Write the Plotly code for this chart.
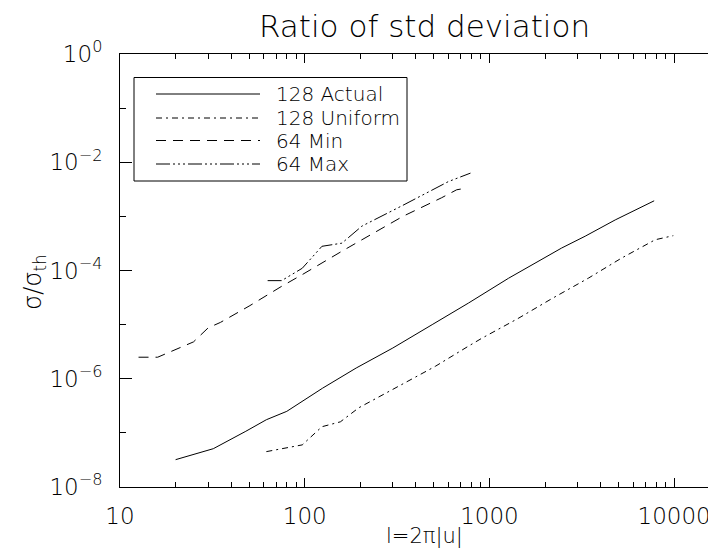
import plotly.graph_objects as go

# ---------------- data ----------------
actual128_l = [20, 32, 48, 62, 80, 125, 190, 300, 490, 770, 1270, 1920, 2460, 3300, 4800, 7800]
actual128_s = [3.2e-8, 5.1e-8, 1.07e-7, 1.75e-7, 2.5e-7, 6.7e-7, 1.58e-6, 3.7e-6, 1.0e-5,
               2.5e-5, 7.2e-5, 1.58e-4, 2.6e-4, 4.3e-4, 8.6e-4, 1.94e-3]

uniform128_l = [62, 97, 124, 156, 196, 300, 510, 770, 910, 1430, 2170, 3430, 5200, 7900, 9900]
uniform128_s = [4.5e-8, 6.0e-8, 1.3e-7, 1.6e-7, 2.9e-7, 6.3e-7, 1.7e-6, 4.0e-6, 5.6e-6,
                1.3e-5, 3.0e-5, 7.2e-5, 1.7e-4, 3.7e-4, 4.4e-4]

min64_l = [12.6, 16, 25, 30, 35, 50, 75, 97, 160, 340, 550, 665, 740]
min64_s = [2.5e-6, 2.5e-6, 4.8e-6, 8.7e-6, 1.1e-5, 2.2e-5, 5.1e-5, 8.4e-5, 2.3e-4,
           1.0e-3, 2.2e-3, 3.1e-3, 3.3e-3]

max64_l = [63, 75, 97, 124, 159, 204, 340, 490, 600, 790]
max64_s = [6.5e-5, 6.5e-5, 1.1e-4, 2.8e-4, 3.2e-4, 6.6e-4, 1.6e-3, 3.1e-3, 4.4e-3, 6.3e-3]

series_names = ["128 Actual", "128 Uniform", "64 Min", "64 Max"]

x_tickvals = [10, 100, 1000, 10000]
x_ticktext = ["10", "100", "1000", "10000"]
y_tickvals = [1, 1e-2, 1e-4, 1e-6, 1e-8]
y_ticktext = ["10<sup>0</sup>", "10<sup>−2</sup>", "10<sup>−4</sup>", "10<sup>−6</sup>", "10<sup>−8</sup>"]

# ---------------- styling ----------------
W, H = 716, 548
ML, MR, MT, MB = 112, 0, 46, 69
FONT = "DejaVu Sans"
WEIGHT = 200
INK = "black"

dashes = ["solid", "6px,4px,2px,4px", "10px,7px",
          "14px,3px,2px,3px,2px,3px,2px,3px"]


def px(xp):
    return (xp - ML) / (W - ML - MR)


def py(yp):
    return 1 - (yp - MT) / (H - MT - MB)


def fnt(size):
    return dict(family=FONT, size=size, color=INK, weight=WEIGHT)


fig = go.Figure()
for xs, ys, d, nm in zip([actual128_l, uniform128_l, min64_l, max64_l],
                         [actual128_s, uniform128_s, min64_s, max64_s],
                         dashes, series_names):
    fig.add_trace(go.Scatter(x=xs, y=ys, mode="lines", name=nm, showlegend=False,
                             line=dict(color=INK, width=1, dash=d)))

XRANGE = [1, 1 + (W - ML - MR) / 184.7]
YRANGE = [-8, 0]

fig.update_xaxes(type="log", range=XRANGE, showline=True, linecolor=INK, linewidth=1,
                 mirror="ticks", ticks="inside", tickcolor=INK, tickwidth=1,
                 showgrid=False, zeroline=False, tickfont=fnt(23),
                 tickmode="array", tickvals=x_tickvals, ticktext=x_ticktext,
                 ticklen=9, ticklabelstandoff=8,
                 minor=dict(ticks="inside", ticklen=5, dtick="D1", tickcolor=INK, tickwidth=1))

fig.update_layout(
    yaxis=dict(type="log", range=YRANGE, showline=True, linecolor=INK, linewidth=1,
               mirror=False, ticks="inside", tickcolor=INK, tickwidth=1,
               showgrid=False, zeroline=False, tickfont=fnt(23),
               tickmode="array", tickvals=y_tickvals, ticktext=y_ticktext,
               ticklen=12, ticklabelstandoff=12,
               minor=dict(ticks="inside", ticklen=6, dtick=1, tickcolor=INK, tickwidth=1)),
    # right-hand axis: only the stubs of the ticks that survive the crop
    yaxis2=dict(type="log", range=YRANGE, overlaying="y", side="right", anchor="x",
                showline=False, ticks="inside", tickcolor=INK, tickwidth=1, ticklen=6,
                tickmode="array", tickvals=y_tickvals, showticklabels=False,
                showgrid=False, zeroline=False,
                minor=dict(ticks="inside", ticklen=1, dtick=1, tickcolor=INK, tickwidth=1)),
)
fig.add_trace(go.Scatter(x=[], y=[], yaxis="y2", showlegend=False, hoverinfo="skip"))

shapes = [dict(type="rect", xref="paper", yref="paper",
               x0=px(126), x1=px(399), y0=py(173), y1=py(69.5),
               line=dict(color=INK, width=1), fillcolor="rgba(0,0,0,0)")]
annotations = []
rows = [86, 110, 132.5, 156]
for nm, d, ry in zip(series_names, dashes, rows):
    shapes.append(dict(type="line", xref="paper", yref="paper",
                       x0=px(148), x1=px(252), y0=py(ry), y1=py(ry),
                       line=dict(color=INK, width=1, dash=d)))
    annotations.append(dict(text=nm, xref="paper", yref="paper", x=px(266), y=py(ry),
                            xanchor="left", yanchor="middle", showarrow=False,
                            font=fnt(20)))

annotations.append(dict(text="Ratio of std deviation", xref="paper", yref="paper",
                        x=px(416), y=py(18), xanchor="center", yanchor="middle",
                        showarrow=False, font=fnt(31)))
annotations.append(dict(text="l=2π|u|", xref="paper", yref="paper",
                        x=px(416), y=py(528), xanchor="center", yanchor="middle",
                        showarrow=False, borderpad=0, font=fnt(21)))
annotations.append(dict(text="σ/σ<sub>th</sub>", xref="paper", yref="paper",
                        x=px(26), y=py(274), xanchor="center", yanchor="middle",
                        textangle=-90, showarrow=False,
                        font=fnt(24)))

fig.update_layout(width=W, height=H, margin=dict(l=ML, r=MR, t=MT, b=MB),
                  paper_bgcolor="white", plot_bgcolor="white",
                  shapes=shapes, annotations=annotations, showlegend=False)

fig.write_html("out.html")
